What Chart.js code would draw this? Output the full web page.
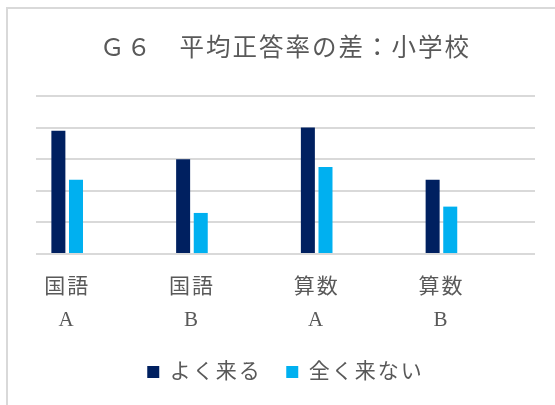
<!DOCTYPE html>
<html>
<head>
<meta charset="utf-8">
<script src="https://cdn.jsdelivr.net/npm/chart.js@4.4.1/dist/chart.umd.min.js"></script>
<style>
  html, body { margin: 0; padding: 0; background: #fff; overflow: hidden; }
  #frame { position: absolute; left: 6px; top: 7px; width: 600px; height: 420px;
           border-left: 2px solid #d9d9d9; border-top: 2px solid #d9d9d9; }
  #chart { position: absolute; left: 0; top: 0; }
</style>
</head>
<body>
<div id="frame"></div>
<canvas id="chart" width="570" height="405"></canvas>
<script>
Chart.defaults.font.family = '"Liberation Serif", "Noto Sans CJK JP", serif';
Chart.defaults.color = '#595959';

let chart_title = 'Ｇ６　平均正答率の差：小学校'
let subjects = ['国語', '国語', '算数', '算数']
let parts = ['A', 'B', 'A', 'B']
let series_names = ['よく来る', '全く来ない']
let often_come = [7.8, 6.0, 8.0, 4.7]
let never_come = [4.7, 2.6, 5.5, 3.0]
let series_colors = ['#002060', '#00B0F0']
let y_ticks = [0, 2, 4, 6, 8, 10]

// bars sit on a linear x axis so the groups can be shifted like the original
function toPoints(vals) {
  return vals.map((v, i) => ({x: i, y: v}))
}

// excel spreads the letters a bit
const spacing = {
  id: 'spacing',
  beforeUpdate(chart) { chart.ctx.letterSpacing = '2px' },
  beforeDraw(chart) { chart.ctx.letterSpacing = '2px' }
}

const ctx = document.getElementById('chart').getContext('2d');

var myChart = new Chart(ctx, {
  type: 'bar',
  data: {
    datasets: [{
      label: series_names[0],
      data: toPoints(often_come),
      backgroundColor: series_colors[0]
    }, {
      label: series_names[1],
      data: toPoints(never_come),
      backgroundColor: series_colors[1]
    }]
  },
  options: {
    responsive: false,
    animation: false,
    categoryPercentage: 0.2824,
    barPercentage: 0.795,
    layout: {
      padding: { left: 36, right: 35, top: 0, bottom: 12.5 }
    },
    scales: {
      x: {
        type: 'linear',
        offset: false,
        min: -0.25,
        max: subjects.length - 0.25,
        afterBuildTicks: axis => {
          axis.ticks = subjects.map((s, i) => ({ value: i }))
        },
        // invisible tick marks give the gap under the axis (padding is counted twice)
        grid: { display: true, drawOnChartArea: false, drawTicks: true, tickLength: 17, tickColor: 'rgba(0,0,0,0)' },
        border: { display: false },
        ticks: {
          autoSkip: false,
          maxRotation: 0,
          padding: 0,
          font: { size: 21, lineHeight: 1.57 },
          callback: value => [subjects[value], parts[value]]
        }
      },
      y: {
        min: y_ticks[0],
        max: y_ticks[y_ticks.length - 1],
        ticks: { display: false, stepSize: y_ticks[1] - y_ticks[0] },
        grid: { color: '#d9d9d9', lineWidth: 2, drawTicks: false },
        border: { display: false }
      }
    },
    plugins: {
      title: {
        display: true,
        text: chart_title,
        color: '#595959',
        font: { size: 24.5, family: '"Noto Sans CJK JP"', weight: 'normal' },
        padding: { top: 31.5, bottom: 35 }
      },
      legend: {
        position: 'bottom',
        labels: {
          boxWidth: 12,
          boxHeight: 12,
          padding: 24.5,
          font: { size: 21 }
        }
      },
      tooltip: { enabled: false }
    }
  },
  plugins: [spacing]
});
</script>
</body>
</html>
